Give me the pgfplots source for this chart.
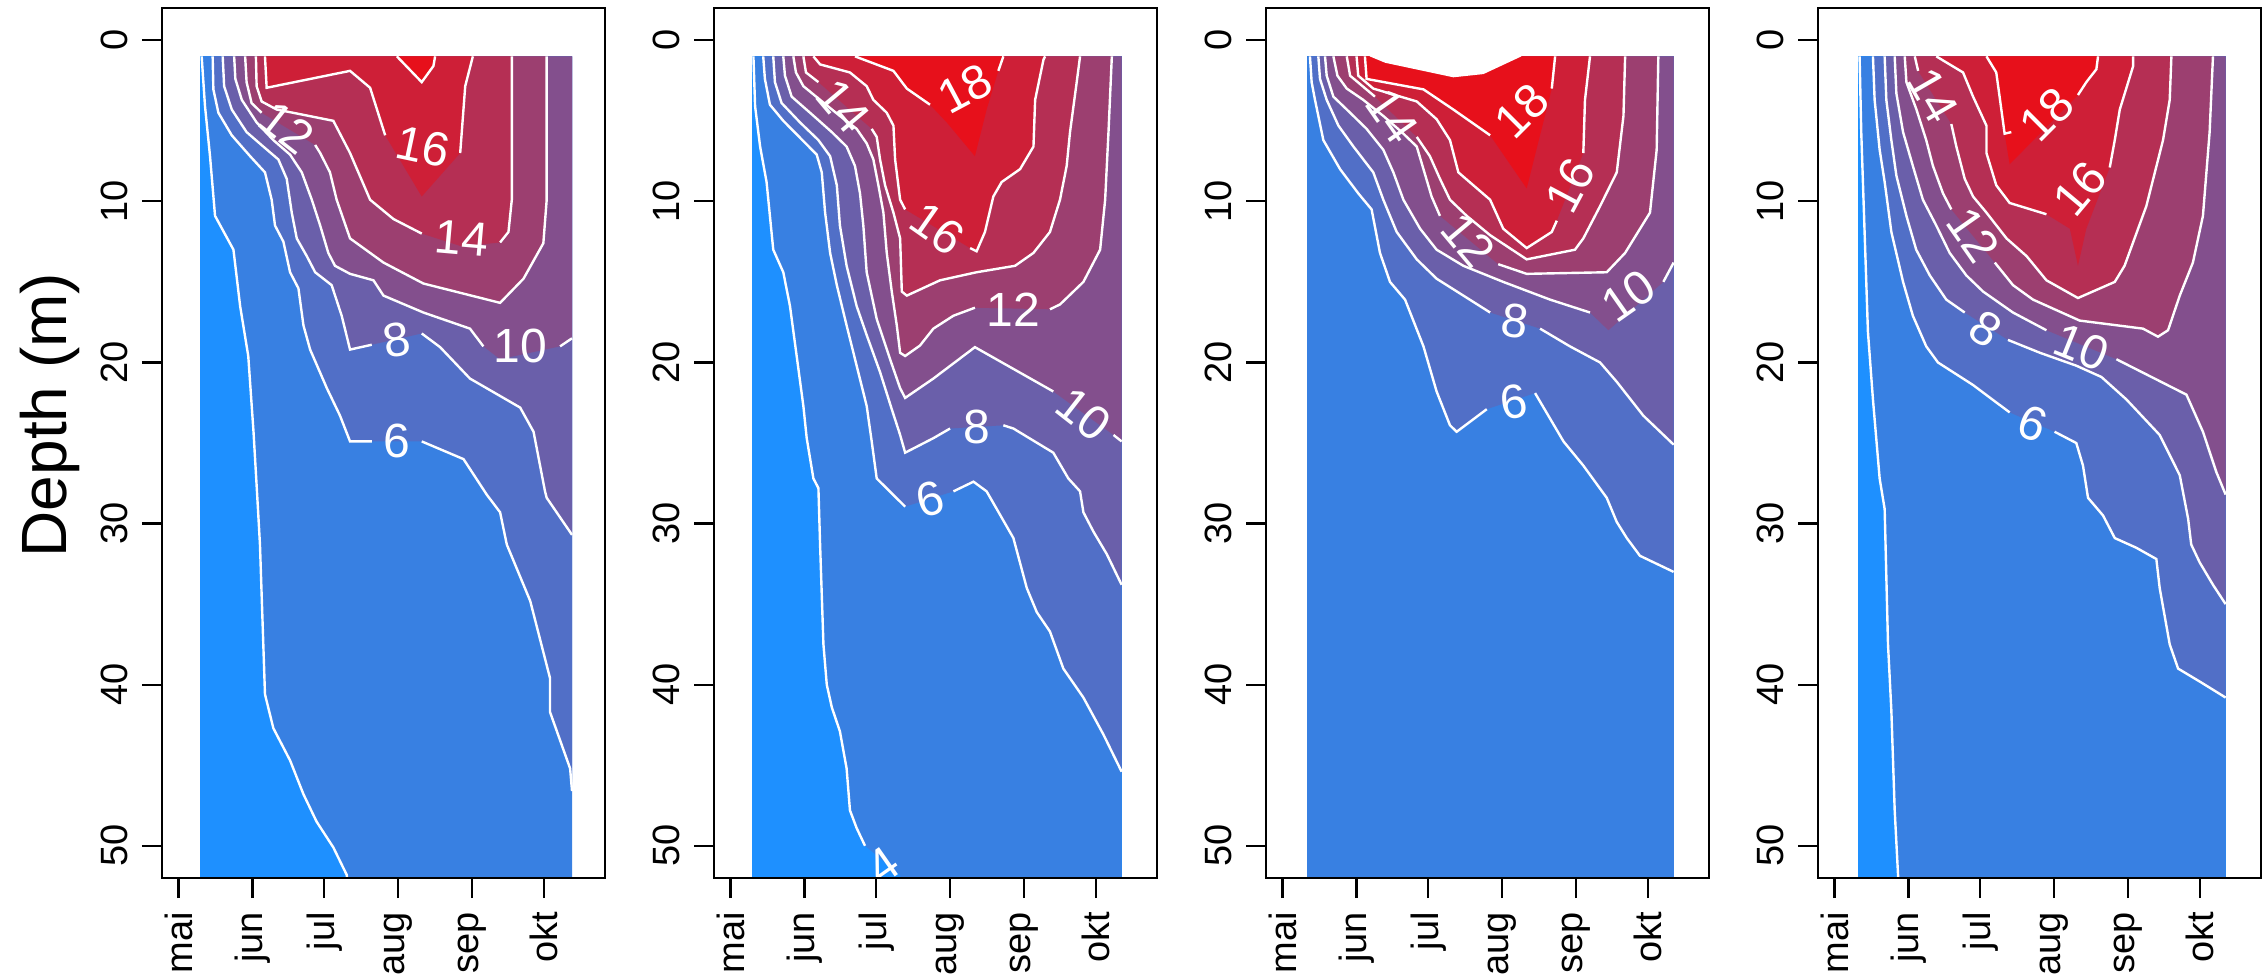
\documentclass[border=0pt]{standalone}
\usepackage{fontspec}
\setmainfont{Liberation Sans}
\usepackage{pgfplots}
\pgfplotsset{compat=1.18}
\definecolor{k0}{RGB}{30,144,255}
\definecolor{k1}{RGB}{56,128,226}
\definecolor{k2}{RGB}{81,111,199}
\definecolor{k3}{RGB}{106,95,170}
\definecolor{k4}{RGB}{131,79,141}
\definecolor{k5}{RGB}{156,63,112}
\definecolor{k6}{RGB}{181,47,84}
\definecolor{k7}{RGB}{206,31,55}
\definecolor{k8}{RGB}{231,16,27}
\pgfplotsset{panel/.style={
  scale only axis, width=110.75pt, height=217.5pt,
  xmin=114.1, xmax=299.5, ymin=-2, ymax=52, y dir=reverse,
  anchor=south west, axis on top,
  axis line style={line width=0.55pt},
  xtick={121,152,182,213,244,274}, xticklabels={mai,jun,jul,aug,sep,okt},
  ytick={0,10,20,30,40,50},
  tick align=outside, xtick pos=bottom, ytick pos=left,
  major tick length=5pt,
  every tick/.style={black, line width=0.55pt},
  /pgf/number format/assume math mode=true,
  xticklabel style={rotate=90, anchor=east, font=\fontsize{9.5}{11}\selectfont},
  yticklabel style={rotate=90, anchor=south, font=\fontsize{9.5}{11}\selectfont},
}}
\newcommand{\CF}[2]{\addplot[draw=none,fill=#1,forget plot] coordinates {#2} -- cycle;}
\newcommand{\CL}[1]{\addplot[white,line width=0.6pt,forget plot,mark=none] coordinates {#1};}
\newcommand{\CT}[4]{\node[text=white,inner sep=0pt,rotate=#3,font=\fontsize{12}{12}\selectfont] at (axis cs:#1,#2) {#4};}
\begin{document}
\begin{tikzpicture}
\useasboundingbox (0,0) rectangle (566pt,244.25pt);
\node[rotate=90, font=\fontsize{16}{16}\selectfont] at (12.5pt,140.5pt) {Depth (m)};
% ---------------- Panel 1
\begin{axis}[panel, at={(40.5pt,24.75pt)}]
\CF{k0}{(129.8,1)(285.7,1)(285.7,53)(129.8,53)}
\CF{k1}{(130.7,1)(132.1,4.1)(134.2,7.2)(136.3,10.9)(144.0,13.0)(146.8,16.5)(150.2,19.6)(152.4,24.3)(154.0,28.4)(155.1,31.3)(156.5,37.5)(157.2,40.6)(160.7,42.7)(167.7,44.7)(173.3,46.8)(178.8,48.5)(185.8,50.1)(191.4,51.8)(192.5,53)(285.7,53)(285.7,1)}
\CF{k2}{(135.3,1)(135.6,3.05)(137.7,4.5)(143.3,5.9)(151.0,7.2)(157.2,8.2)(160.0,9.9)(161.4,11.5)(164.9,12.5)(167.7,14.4)(171.2,15.4)(173.3,17.7)(176.1,19.2)(183.1,21.6)(188.6,23.3)(192.8,24.9)(201.9,24.9)(222.8,24.9)(240.3,26.0)(250.0,28.2)(255.6,29.3)(258.4,31.3)(268.2,34.8)(276.5,39.6)(276.5,41.7)(284.9,45.2)(285.7,46.6)(285.7,1)}
\CF{k3}{(139.5,1)(140.1,2.85)(143.3,4.3)(149.5,5.7)(156.5,6.6)(162.8,7.4)(166.3,8.6)(168.4,10.7)(170.5,12.3)(174.7,13.4)(178.2,14.4)(185.1,15.2)(189.3,17.1)(192.8,19.2)(201.9,18.9)(222.8,18.2)(230.5,19.05)(243.0,21.0)(264.0,22.8)(269.6,24.3)(274.4,28.0)(275.1,28.4)(285.7,30.7)(285.7,1)}
\CF{k4}{(144.3,1)(144.8,2.4)(147.5,3.7)(153.7,5.1)(160.7,6.2)(167.7,7.1)(172.6,8.2)(176.8,9.9)(180.3,11.5)(183.7,13.2)(186.5,14.0)(192.8,14.5)(202.6,14.9)(206.8,15.85)(223.5,16.9)(243.0,17.9)(248.6,19.0)(255.6,19.8)(280.7,19.0)(285.7,18.5)(285.7,1)}
\CF{k5}{(148.9,1)(149.5,2.6)(151.6,3.9)(155.8,4.5)(178.2,6.5)(180.3,7.0)(184.4,8.2)(187.2,9.9)(192.8,12.3)(206.8,13.8)(223.5,15.1)(255.6,16.3)(265.4,14.8)(273.7,12.6)(275.1,9.9)(275.1,1)}
\CF{k6}{(153.4,1)(153.7,2.85)(155.8,3.8)(162.1,4.3)(185.8,5.0)(192.8,7.0)(201.2,9.9)(211.0,11.1)(222.8,12.0)(239.6,12.8)(255.6,12.55)(259.1,11.9)(260.5,9.9)(260.5,1)}
\CF{k7}{(157.2,1)(157.9,2.95)(192.8,1.9)(201.2,2.95)(207.5,5.9)(222.8,9.7)(238.9,7.0)(241.0,2.85)(244.2,1)}
\CF{k8}{(212.4,1)(222.8,2.6)(227.7,1.6)(228.4,1)}
\CL{(130.7,1)(132.1,4.1)(134.2,7.2)(136.3,10.9)(144.0,13.0)(146.8,16.5)(150.2,19.6)(152.4,24.3)(154.0,28.4)(155.1,31.3)(156.5,37.5)(157.2,40.6)(160.7,42.7)(167.7,44.7)(173.3,46.8)(178.8,48.5)(185.8,50.1)(191.4,51.8)(192.5,53)}
\CL{(135.3,1)(135.6,3.05)(137.7,4.5)(143.3,5.9)(151.0,7.2)(157.2,8.2)(160.0,9.9)(161.4,11.5)(164.9,12.5)(167.7,14.4)(171.2,15.4)(173.3,17.7)(176.1,19.2)(183.1,21.6)(188.6,23.3)(192.8,24.9)(201.9,24.9)}
\CL{(222.8,24.9)(240.3,26.0)(250.0,28.2)(255.6,29.3)(258.4,31.3)(268.2,34.8)(276.5,39.6)(276.5,41.7)(284.9,45.2)(285.7,46.6)}
\CL{(139.5,1)(140.1,2.85)(143.3,4.3)(149.5,5.7)(156.5,6.6)(162.8,7.4)(166.3,8.6)(168.4,10.7)(170.5,12.3)(174.7,13.4)(178.2,14.4)(185.1,15.2)(189.3,17.1)(192.8,19.2)(201.9,18.9)}
\CL{(222.8,18.2)(230.5,19.05)(243.0,21.0)(264.0,22.8)(269.6,24.3)(274.4,28.0)(275.1,28.4)(285.7,30.7)}
\CL{(144.3,1)(144.8,2.4)(147.5,3.7)(153.7,5.1)(160.7,6.2)(167.7,7.1)(172.6,8.2)(176.8,9.9)(180.3,11.5)(183.7,13.2)(186.5,14.0)(192.8,14.5)(202.6,14.9)(206.8,15.85)(223.5,16.9)(243.0,17.9)(248.6,19.0)}
\CL{(280.7,19.0)(285.7,18.5)}
\CL{(148.9,1)(149.5,2.6)(151.6,3.9)(155.8,4.5)}
\CL{(178.2,6.5)(180.3,7.0)(184.4,8.2)(187.2,9.9)(192.8,12.3)(206.8,13.8)(223.5,15.1)(255.6,16.3)(265.4,14.8)(273.7,12.6)(275.1,9.9)(275.1,1)}
\CL{(153.4,1)(153.7,2.85)(155.8,3.8)(162.1,4.3)(185.8,5.0)(192.8,7.0)(201.2,9.9)(211.0,11.1)(222.8,12.0)}
\CL{(255.6,12.55)(259.1,11.9)(260.5,9.9)(260.5,1)}
\CL{(157.2,1)(157.9,2.95)(192.8,1.9)(201.2,2.95)(207.5,5.9)}
\CL{(238.9,7.0)(241.0,2.85)(244.2,1)}
\CL{(212.4,1)(222.8,2.6)(227.7,1.6)(228.4,1)}
\CT{223.5}{6.6}{-12}{16}
\CT{239.6}{12.3}{-5}{14}
\CT{166.3}{5.4}{-38}{12}
\CT{264.0}{19.0}{0}{10}
\CT{212.4}{18.6}{10}{8}
\CT{212.4}{24.9}{0}{6}
\end{axis}
% ---------------- Panel 2
\begin{axis}[panel, at={(178.5pt,24.75pt)}]
\CF{k0}{(129.9,1)(284.7,1)(284.7,53)(129.9,53)}
\CF{k1}{(130.6,1)(131.3,4.1)(133.4,6.6)(136.1,8.8)(138.9,13.0)(143.1,14.4)(145.9,16.5)(148.7,19.6)(151.5,22.7)(152.9,24.7)(155.7,27.2)(157.8,27.8)(158.5,31.3)(159.9,37.5)(161.3,40.0)(163.4,41.4)(166.8,42.9)(169.6,45.2)(171.0,47.8)(173.8,48.9)(177.3,50.0)(192.0,51.8)(193.5,53)(284.7,53)(284.7,1)}
\CF{k2}{(134.7,1)(135.4,2.4)(137.5,4.0)(143.1,5.0)(157.1,7.1)(159.2,8.2)(160.6,10.7)(162.7,13.2)(165.5,15.2)(169.6,17.7)(173.8,20.2)(178.0,22.7)(180.1,24.9)(182.2,27.2)(194.1,28.95)(214.3,28.0)(222.7,27.4)(228.2,28.0)(239.4,30.9)(245.0,34.0)(249.2,35.5)(254.7,36.7)(260.3,39.0)(268.7,40.8)(277.1,43.1)(284.7,45.4)(284.7,1)}
\CF{k3}{(138.9,1)(139.6,2.6)(142.4,3.9)(150.1,5.1)(157.8,6.2)(162.7,7.2)(165.5,9.0)(166.8,11.5)(169.6,14.0)(173.8,16.5)(178.0,18.3)(183.6,20.6)(188.5,22.9)(192.0,24.5)(194.1,25.6)(205.9,24.7)(212.9,24.1)(235.2,23.9)(239.4,24.1)(256.1,25.6)(262.4,27.2)(267.3,28.0)(268.7,29.3)(272.9,30.5)(278.5,31.9)(284.7,33.8)(284.7,1)}
\CF{k4}{(143.1,1)(143.8,2.2)(146.6,3.5)(154.3,4.5)(163.4,5.7)(169.6,6.6)(173.1,7.8)(175.2,9.5)(176.6,11.5)(178.0,14.4)(182.2,17.3)(187.8,19.8)(192.0,21.6)(194.1,22.2)(205.9,21.0)(223.3,19.05)(239.4,20.4)(256.1,21.8)(281.3,24.5)(284.7,24.9)(284.7,1)}
\CF{k5}{(147.3,1)(148.4,2.0)(151.5,2.85)(158.5,3.7)(166.8,4.7)(173.8,5.5)(178.0,6.4)(180.8,7.4)(182.9,9.0)(185.0,10.7)(186.4,13.2)(188.5,15.6)(190.6,17.7)(192.0,19.4)(194.1,19.6)(200.3,18.95)(205.9,17.9)(214.3,17.1)(223.3,16.6)(254.7,16.7)(258.9,16.4)(268.7,15.0)(275.7,13.0)(277.8,9.9)(279.2,5.7)(280.6,1)}
\CF{k6}{(151.5,1)(152.6,2.0)(157.8,2.6)(180.1,5.5)(182.2,6.0)(183.6,7.4)(185.7,9.0)(189.2,10.7)(192.0,12.3)(192.7,15.6)(194.8,15.85)(208.7,14.9)(224.0,14.4)(240.1,14.0)(247.8,13.2)(254.7,11.9)(258.9,9.9)(261.7,7.8)(263.1,5.7)(265.9,2.6)(267.3,1)}
\CF{k7}{(155.7,1)(158.5,1.5)(171.0,2.0)(178.0,2.85)(180.8,3.7)(186.4,4.5)(189.2,5.3)(189.9,7.4)(192.0,9.9)(194.1,10.5)(221.3,12.9)(224.0,13.1)(227.5,11.9)(231.0,9.7)(234.5,8.8)(242.2,8.0)(247.8,6.6)(248.5,3.7)(252.0,1.2)(252.7,1)}
\CF{k8}{(173.1,1)(189.2,1.9)(194.8,3.0)(204.5,4.0)(211.5,5.1)(223.3,7.2)(228.2,4.3)(233.1,1.9)(235.2,1)}
\CL{(130.6,1)(131.3,4.1)(133.4,6.6)(136.1,8.8)(138.9,13.0)(143.1,14.4)(145.9,16.5)(148.7,19.6)(151.5,22.7)(152.9,24.7)(155.7,27.2)(157.8,27.8)(158.5,31.3)(159.9,37.5)(161.3,40.0)(163.4,41.4)(166.8,42.9)(169.6,45.2)(171.0,47.8)(173.8,48.9)(177.3,50.0)}
\CL{(134.7,1)(135.4,2.4)(137.5,4.0)(143.1,5.0)(157.1,7.1)(159.2,8.2)(160.6,10.7)(162.7,13.2)(165.5,15.2)(169.6,17.7)(173.8,20.2)(178.0,22.7)(180.1,24.9)(182.2,27.2)(194.1,28.95)}
\CL{(214.3,28.0)(222.7,27.4)(228.2,28.0)(239.4,30.9)(245.0,34.0)(249.2,35.5)(254.7,36.7)(260.3,39.0)(268.7,40.8)(277.1,43.1)(284.7,45.4)}
\CL{(138.9,1)(139.6,2.6)(142.4,3.9)(150.1,5.1)(157.8,6.2)(162.7,7.2)(165.5,9.0)(166.8,11.5)(169.6,14.0)(173.8,16.5)(178.0,18.3)(183.6,20.6)(188.5,22.9)(192.0,24.5)(194.1,25.6)(205.9,24.7)(212.9,24.1)}
\CL{(235.2,23.9)(239.4,24.1)(256.1,25.6)(262.4,27.2)(267.3,28.0)(268.7,29.3)(272.9,30.5)(278.5,31.9)(284.7,33.8)}
\CL{(143.1,1)(143.8,2.2)(146.6,3.5)(154.3,4.5)(163.4,5.7)(169.6,6.6)(173.1,7.8)(175.2,9.5)(176.6,11.5)(178.0,14.4)(182.2,17.3)(187.8,19.8)(192.0,21.6)(194.1,22.2)(205.9,21.0)(223.3,19.05)(239.4,20.4)(256.1,21.8)}
\CL{(281.3,24.5)(284.7,24.9)}
\CL{(147.3,1)(148.4,2.0)(151.5,2.85)(158.5,3.7)(166.8,4.7)(173.8,5.5)(178.0,6.4)(180.8,7.4)(182.9,9.0)(185.0,10.7)(186.4,13.2)(188.5,15.6)(190.6,17.7)(192.0,19.4)(194.1,19.6)(200.3,18.95)(205.9,17.9)(214.3,17.1)(223.3,16.6)}
\CL{(254.7,16.7)(258.9,16.4)(268.7,15.0)(275.7,13.0)(277.8,9.9)(279.2,5.7)(280.6,1)}
\CL{(151.5,1)(152.6,2.0)(157.8,2.6)}
\CL{(180.1,5.5)(182.2,6.0)(183.6,7.4)(185.7,9.0)(189.2,10.7)(192.0,12.3)(192.7,15.6)(194.8,15.85)(208.7,14.9)(224.0,14.4)(240.1,14.0)(247.8,13.2)(254.7,11.9)(258.9,9.9)(261.7,7.8)(263.1,5.7)(265.9,2.6)(267.3,1)}
\CL{(155.7,1)(158.5,1.5)(171.0,2.0)(178.0,2.85)(180.8,3.7)(186.4,4.5)(189.2,5.3)(189.9,7.4)(192.0,9.9)(194.1,10.5)}
\CL{(221.3,12.9)(224.0,13.1)(227.5,11.9)(231.0,9.7)(234.5,8.8)(242.2,8.0)(247.8,6.6)(248.5,3.7)(252.0,1.2)(252.7,1)}
\CL{(173.1,1)(189.2,1.9)(194.8,3.0)(204.5,4.0)}
\CL{(233.1,1.9)(235.2,1)}
\CT{219.2}{3.0}{28}{18}
\CT{207.6}{11.7}{-35}{16}
\CT{168.2}{4.1}{-50}{14}
\CT{239.4}{16.7}{0}{12}
\CT{268.7}{23.2}{-38}{10}
\CT{224.0}{24.0}{0}{8}
\CT{204.5}{28.5}{15}{6}
\CT{185.0}{51.2}{35}{4}
\end{axis}
% ---------------- Panel 3
\begin{axis}[panel, at={(316.5pt,24.75pt)}]
\CF{k1}{(131.1,1)(284.7,1)(284.7,53)(131.1,53)}
\CF{k2}{(132.5,1)(133.2,2.6)(134.6,3.7)(138.1,6.2)(145.1,8.0)(152.7,9.5)(158.3,10.5)(161.8,13.2)(166.0,15.0)(172.3,16.1)(180.0,19.0)(185.5,21.8)(191.1,23.9)(193.9,24.3)(206.5,22.9)(226.7,21.9)(238.6,24.9)(246.9,26.4)(256.7,28.4)(260.9,29.9)(265.1,30.9)(270.6,32.0)(284.7,33.0)(284.7,1)}
\CF{k3}{(136.0,1)(136.7,2.4)(139.5,3.7)(144.4,5.3)(150.7,6.6)(159.0,8.2)(163.2,9.9)(168.8,11.9)(177.2,13.6)(185.5,14.8)(196.7,15.85)(207.9,16.9)(228.8,17.9)(241.3,19.0)(253.9,20.0)(260.9,21.2)(272.0,23.3)(284.7,25.1)(284.7,1)}
\CF{k4}{(138.8,1)(139.5,2.2)(142.3,3.5)(149.3,4.5)(156.2,5.5)(163.2,6.8)(167.4,8.2)(171.6,9.9)(178.6,11.7)(185.5,13.0)(196.7,14.0)(213.4,15.0)(233.0,16.1)(249.7,16.9)(257.4,18.0)(280.4,15.0)(284.7,13.8)(284.7,1)}
\CF{k5}{(142.3,1)(144.0,2.2)(147.9,3.0)(154.8,3.7)(163.2,4.7)(170.9,5.7)(177.2,6.6)(180.0,8.0)(183.4,9.7)(186.9,10.9)(211.3,13.9)(223.2,14.5)(256.7,14.4)(264.4,13.2)(274.8,10.7)(277.6,6.8)(278.3,1)}
\CF{k6}{(147.9,1)(149.3,2.2)(159.7,3.5)(177.2,6.0)(182.7,7.2)(186.9,8.6)(191.1,9.9)(198.1,10.9)(207.9,12.1)(223.2,13.6)(243.4,13.0)(246.9,12.3)(253.9,10.3)(260.9,8.2)(263.7,4.7)(264.4,1)}
\CF{k7}{(152.0,1)(152.7,2.2)(159.0,3.0)(177.2,3.8)(185.5,4.9)(191.1,6.2)(194.6,8.2)(207.9,9.9)(213.4,11.7)(223.2,12.9)(233.7,11.9)(235.8,11.2)(246.9,7.0)(247.6,3.7)(249.7,1)}
\CF{k8}{(155.5,1)(156.2,2.4)(180.0,3.05)(192.5,4.3)(207.9,5.9)(223.2,9.2)(233.7,3.0)(235.1,1)}
\CF{white}{(157.5,0.5)(157.5,1)(164.0,1.4)(192.5,2.3)(205.1,2.1)(221.0,1)(221.0,0.5)}
\CL{(132.5,1)(133.2,2.6)(134.6,3.7)(138.1,6.2)(145.1,8.0)(152.7,9.5)(158.3,10.5)(161.8,13.2)(166.0,15.0)(172.3,16.1)(180.0,19.0)(185.5,21.8)(191.1,23.9)(193.9,24.3)(206.5,22.9)}
\CL{(226.7,21.9)(238.6,24.9)(246.9,26.4)(256.7,28.4)(260.9,29.9)(265.1,30.9)(270.6,32.0)(284.7,33.0)}
\CL{(136.0,1)(136.7,2.4)(139.5,3.7)(144.4,5.3)(150.7,6.6)(159.0,8.2)(163.2,9.9)(168.8,11.9)(177.2,13.6)(185.5,14.8)(196.7,15.85)(207.9,16.9)}
\CL{(228.8,17.9)(241.3,19.0)(253.9,20.0)(260.9,21.2)(272.0,23.3)(284.7,25.1)}
\CL{(138.8,1)(139.5,2.2)(142.3,3.5)(149.3,4.5)(156.2,5.5)(163.2,6.8)(167.4,8.2)(171.6,9.9)(178.6,11.7)(185.5,13.0)(196.7,14.0)(213.4,15.0)(233.0,16.1)(249.7,16.9)}
\CL{(280.4,15.0)(284.7,13.8)}
\CL{(142.3,1)(144.0,2.2)(147.9,3.0)(154.8,3.7)(163.2,4.7)(170.9,5.7)(177.2,6.6)(180.0,8.0)(183.4,9.7)(186.9,10.9)}
\CL{(211.3,13.9)(223.2,14.5)(256.7,14.4)(264.4,13.2)(274.8,10.7)(277.6,6.8)(278.3,1)}
\CL{(147.9,1)(149.3,2.2)(159.7,3.5)}
\CL{(177.2,6.0)(182.7,7.2)(186.9,8.6)(191.1,9.9)(198.1,10.9)(207.9,12.1)(223.2,13.6)(243.4,13.0)(246.9,12.3)(253.9,10.3)(260.9,8.2)(263.7,4.7)(264.4,1)}
\CL{(152.0,1)(152.7,2.2)(159.0,3.0)(177.2,3.8)(185.5,4.9)(191.1,6.2)(194.6,8.2)(207.9,9.9)(213.4,11.7)(223.2,12.9)(233.7,11.9)(235.8,11.2)}
\CL{(246.9,7.0)(247.6,3.7)(249.7,1)}
\CL{(155.5,1)(156.2,2.4)(180.0,3.05)(192.5,4.3)(207.9,5.9)}
\CL{(233.7,3.0)(235.1,1)}
\CT{221.0}{4.4}{45}{18}
\CT{241.3}{9.0}{62}{16}
\CT{167.0}{4.7}{-55}{14}
\CT{198.8}{12.4}{-50}{12}
\CT{265.8}{15.85}{35}{10}
\CT{218.3}{17.4}{-8}{8}
\CT{217.6}{22.45}{10}{6}
\end{axis}
% ---------------- Panel 4
\begin{axis}[panel, at={(454.5pt,24.75pt)}]
\CF{k0}{(130.9,1)(284.7,1)(284.7,53)(130.9,53)}
\CF{k1}{(131.5,1)(132.2,5.7)(133.6,11.9)(135.0,18.1)(137.1,22.3)(139.9,27.2)(142.0,29.1)(143.4,37.5)(144.8,41.6)(146.2,47.8)(147.6,51.8)(147.9,53)(284.7,53)(284.7,1)}
\CF{k2}{(137.1,1)(137.8,3.7)(139.9,6.8)(142.0,8.8)(144.8,11.9)(149.7,15.0)(153.8,17.1)(159.4,19.0)(164.3,20.0)(179.0,21.4)(194.3,23.1)(213.1,24.3)(222.2,25.0)(225.0,26.4)(227.1,28.4)(233.4,29.5)(238.3,30.9)(247.3,31.5)(255.7,32.2)(257.1,34.0)(261.3,37.5)(264.8,39.0)(273.8,39.8)(284.7,40.8)(284.7,1)}
\CF{k3}{(142.0,1)(142.7,3.7)(144.8,6.2)(146.9,8.4)(151.1,10.9)(155.2,13.0)(160.9,14.6)(167.8,16.1)(175.5,16.9)(193.6,18.6)(207.0,19.4)(222.2,20.2)(232.7,20.9)(243.2,22.3)(257.1,24.5)(265.5,27.0)(269.0,29.7)(270.3,31.3)(273.8,32.4)(279.4,33.8)(284.7,35.0)(284.7,1)}
\CF{k4}{(146.2,1)(146.9,3.3)(149.7,5.7)(153.8,7.8)(158.0,9.9)(163.6,11.5)(169.2,13.2)(176.2,14.6)(183.2,15.6)(195.7,16.9)(209.7,18.0)(239.0,19.8)(268.3,22.0)(275.2,24.3)(280.8,26.8)(284.7,28.2)(284.7,1)}
\CF{k5}{(150.4,1)(151.1,2.6)(155.3,4.3)(159.4,6.2)(162.2,7.8)(166.4,9.5)(169.9,10.5)(188.1,13.8)(195.7,15.2)(204.1,16.1)(223.6,17.4)(250.1,17.9)(256.4,18.4)(260.6,18.0)(265.5,15.85)(271.0,13.8)(275.2,10.9)(278.0,5.7)(279.4,1)}
\CF{k6}{(154.6,1)(156.0,1.9)(169.9,5.2)(172.0,6.6)(175.5,8.6)(179.0,9.7)(184.6,10.7)(193.0,12.3)(201.4,13.4)(209.7,14.9)(222.9,16.0)(238.3,15.0)(242.4,14.0)(251.5,10.3)(258.5,6.2)(261.3,3.7)(262.0,1)}
\CF{k7}{(163.6,1)(174.8,2.0)(179.0,3.5)(184.6,5.3)(184.6,7.0)(188.7,9.0)(194.3,10.1)(209.7,10.8)(219.5,11.7)(222.9,14.0)(226.4,11.7)(236.2,7.9)(238.3,6.2)(240.4,4.3)(246.0,1.6)(246.0,1)}
\CF{k8}{(184.6,1)(188.7,2.0)(190.1,3.5)(192.2,5.8)(194.3,7.7)(222.9,3.4)(226.4,2.6)(230.6,1.8)(231.3,1)}
\CL{(131.5,1)(132.2,5.7)(133.6,11.9)(135.0,18.1)(137.1,22.3)(139.9,27.2)(142.0,29.1)(143.4,37.5)(144.8,41.6)(146.2,47.8)(147.6,51.8)(147.9,53)}
\CL{(137.1,1)(137.8,3.7)(139.9,6.8)(142.0,8.8)(144.8,11.9)(149.7,15.0)(153.8,17.1)(159.4,19.0)(164.3,20.0)(179.0,21.4)(194.3,23.1)}
\CL{(213.1,24.3)(222.2,25.0)(225.0,26.4)(227.1,28.4)(233.4,29.5)(238.3,30.9)(247.3,31.5)(255.7,32.2)(257.1,34.0)(261.3,37.5)(264.8,39.0)(273.8,39.8)(284.7,40.8)}
\CL{(142.0,1)(142.7,3.7)(144.8,6.2)(146.9,8.4)(151.1,10.9)(155.2,13.0)(160.9,14.6)(167.8,16.1)(175.5,16.9)}
\CL{(193.6,18.6)(207.0,19.4)(222.2,20.2)(232.7,20.9)(243.2,22.3)(257.1,24.5)(265.5,27.0)(269.0,29.7)(270.3,31.3)(273.8,32.4)(279.4,33.8)(284.7,35.0)}
\CL{(146.2,1)(146.9,3.3)(149.7,5.7)(153.8,7.8)(158.0,9.9)(163.6,11.5)(169.2,13.2)(176.2,14.6)(183.2,15.6)(195.7,16.9)(209.7,18.0)}
\CL{(239.0,19.8)(268.3,22.0)(275.2,24.3)(280.8,26.8)(284.7,28.2)}
\CL{(150.4,1)(151.1,2.6)(155.3,4.3)(159.4,6.2)(162.2,7.8)(166.4,9.5)(169.9,10.5)}
\CL{(188.1,13.8)(195.7,15.2)(204.1,16.1)(223.6,17.4)(250.1,17.9)(256.4,18.4)(260.6,18.0)(265.5,15.85)(271.0,13.8)(275.2,10.9)(278.0,5.7)(279.4,1)}
\CL{(154.6,1)(156.0,1.9)}
\CL{(169.9,5.2)(172.0,6.6)(175.5,8.6)(179.0,9.7)(184.6,10.7)(193.0,12.3)(201.4,13.4)(209.7,14.9)(222.9,16.0)(238.3,15.0)(242.4,14.0)(251.5,10.3)(258.5,6.2)(261.3,3.7)(262.0,1)}
\CL{(163.6,1)(174.8,2.0)(179.0,3.5)(184.6,5.3)(184.6,7.0)(188.7,9.0)(194.3,10.1)(209.7,10.8)}
\CL{(236.2,7.9)(238.3,6.2)(240.4,4.3)(246.0,1.6)(246.0,1)}
\CL{(184.6,1)(188.7,2.0)(190.1,3.5)(192.2,5.8)(195.0,5.7)}
\CL{(222.9,3.4)(226.4,2.6)(230.6,1.8)(231.3,1)}
\CT{209.7}{4.6}{45}{18}
\CT{223.6}{9.2}{50}{16}
\CT{162.2}{3.4}{-60}{14}
\CT{179.0}{12.1}{-55}{12}
\CT{224.4}{19.05}{-22}{10}
\CT{184.3}{17.9}{-33}{8}
\CT{204.1}{23.8}{-20}{6}
\end{axis}
\end{tikzpicture}
\end{document}
